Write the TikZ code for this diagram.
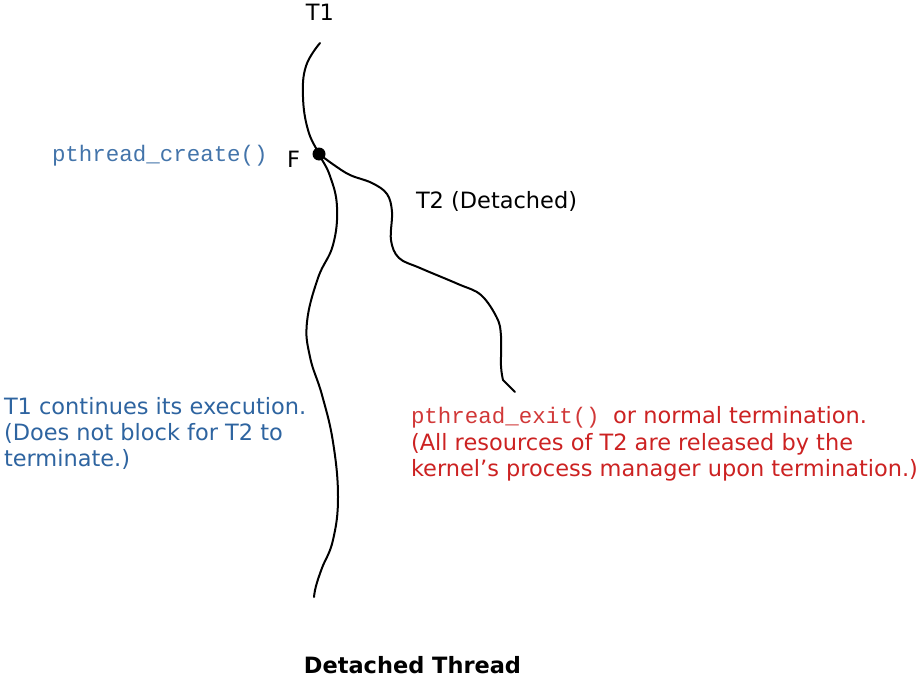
\documentclass[tikz,border=0pt]{standalone}
\usepackage{fontspec}
\setmainfont{DejaVu Sans}
\newfontfamily\monof{Liberation Mono}
\definecolor{tblue}{RGB}{46,100,160}
\definecolor{tred}{RGB}{204,34,34}
\begin{document}
\begin{tikzpicture}[x=0.75pt,y=-0.75pt,
  lbl/.style={inner sep=0pt,outer sep=0pt,anchor=base west,font=\fontsize{16.85pt}{20pt}\selectfont},
  thr/.style={line width=1.5pt,line cap=round,line join=round}]
\useasboundingbox (0,0) rectangle (921,678);
\coordinate (F) at (319,154);
% T1 thread
\draw[thr] plot[smooth,tension=0.7] coordinates{(320,43) (306,66) (303,97) (308,130) (F) (330,176) (337,207) (333,245) (318,278) (307,322) (310,357) (322,395) (333,442) (338,497) (333,540) (322,568) (316,586) (314,597)};
% T2 thread
\draw[thr] plot[smooth,tension=0.6] coordinates{(F) (334,165) (350,175) (372,183) (387,194) (392,212) (391,240) (399,258) (420,268) (458,284) (481,295) (497,318) (501,336) (501,366) (503,380)} -- (515,392);
\fill (F) circle (6.5);
% labels
\node[lbl,anchor=base] (t1) at (320,21) {T1};
\node[lbl] (f) at (287,167) {F};
\node[lbl,text=tblue!90] (pc) at (52,161) {\monof pthread\_create()};
\node[lbl] (t2) at (416,208) {T2 (Detached)};
\node[lbl,text=tblue] (c1) at (4,414) {T1 continues its execution.};
\node[lbl,text=tblue] (c2) at (4,440) {(Does not block for T2 to};
\node[lbl,text=tblue] (c3) at (4,466) {terminate.)};
\node[lbl,text=tred] (e1) at (411,423) {{\monof\color{tred!90} pthread\_exit() }or normal termination.};
\node[lbl,text=tred] (e2) at (411,450) {(All resources of T2 are released by the};
\node[lbl,text=tred] (e3) at (411,476) {kernel’s process manager upon termination.)};
\node[lbl,anchor=base,font=\fontsize{16.85pt}{20pt}\selectfont\bfseries] (title) at (412.5,673.5) {Detached Thread};
\end{tikzpicture}
\end{document}
